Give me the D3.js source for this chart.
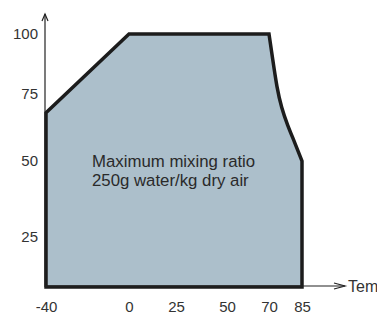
<!DOCTYPE html>
<html>
<head>
<meta charset="utf-8">
<script src="https://cdn.jsdelivr.net/npm/d3@7"></script>
<style>
  body { margin: 0; background: #fff; }
  svg { display: block; font-family: "Liberation Sans", Arial, sans-serif; }
</style>
</head>
<body>
<svg id="chart"></svg>
<script>
// Operating envelope: temperature (°C) vs relative humidity (%)
const xTicks = [-40, 0, 25, 50, 70, 85];
const yTicks = [25, 50, 75, 100];
const outlineLeft = [[85, 0], [-40, 0], [-40, 68], [0, 100], [70, 100]];
const outlineCurve = [[70, 100], [71.6, 90], [73.6, 77.5], [75.7, 69.8], [78.4, 63.4], [81.6, 57.1], [85, 50]];
const labelLines = ["Maximum mixing ratio", "250g water/kg dry air"];
const axisName = "Tem";

const W = 377, H = 315;
const svg = d3.select("#chart").attr("width", W).attr("height", H);

// the printed tick spacing is uneven, so map tick by tick
const x = d3.scaleLinear()
  .domain([-40, 0, 25, 50, 70, 85])
  .range([46, 129, 176, 227, 269, 302]);
const y = d3.scaleLinear()
  .domain([0, 25, 50, 75, 100])
  .range([287, 237, 161, 94, 34]);

const straight = d3.line().x(d => x(d[0])).y(d => y(d[1]));
const curved = d3.line().x(d => x(d[0])).y(d => y(d[1])).curve(d3.curveBasis);

const pathD = straight(outlineLeft) + "L" + curved(outlineCurve).slice(1) + "Z";

svg.append("path")
  .attr("d", pathD)
  .attr("fill", "#acbfcb")
  .attr("stroke", "#1c1c1c")
  .attr("stroke-width", 3.5)
  .attr("stroke-linejoin", "miter");

// axis lines with open arrowheads
const ax = svg.append("g").attr("stroke", "#222").attr("fill", "none").attr("stroke-width", 1.2);
ax.append("line").attr("x1", x(-40) - 1).attr("x2", x(-40) - 1).attr("y1", y(0)).attr("y2", 14);
ax.append("path").attr("d", `M${x(-40) - 4},21 L${x(-40) - 1},14 L${x(-40) + 2},21`);
ax.append("line").attr("x1", x(-40)).attr("x2", 345).attr("y1", y(0) - 1).attr("y2", y(0) - 1);
ax.append("path").attr("d", `M334,${y(0) - 4} L345,${y(0) - 1} L334,${y(0) + 2}`);

// tick labels
const yAxis = svg.append("g")
  .attr("transform", "translate(38,0)")
  .call(d3.axisLeft(y).tickValues(yTicks).tickSize(0).tickPadding(0));
yAxis.select(".domain").remove();
yAxis.selectAll("text")
  .attr("font-size", 15)
  .attr("font-family", "Liberation Sans, Arial, sans-serif")
  .attr("fill", "#333");

const xAxis = svg.append("g")
  .attr("transform", "translate(0,301)")
  .call(d3.axisBottom(x).tickValues(xTicks).tickSize(0).tickPadding(0).tickFormat(d => String(d)));
xAxis.select(".domain").remove();
xAxis.selectAll("text")
  .attr("font-size", 15)
  .attr("font-family", "Liberation Sans, Arial, sans-serif")
  .attr("fill", "#333")
  .attr("dy", "0.71em");

svg.append("text")
  .attr("x", 348)
  .attr("y", 292)
  .attr("font-size", 16)
  .attr("fill", "#333")
  .text(axisName);

svg.append("g")
  .selectAll("text")
  .data(labelLines)
  .join("text")
  .attr("x", 92)
  .attr("y", (d, i) => 167 + i * 19)
  .attr("font-size", 16.8)
  .attr("fill", "#2a2a2a")
  .text(d => d);
</script>
</body>
</html>
